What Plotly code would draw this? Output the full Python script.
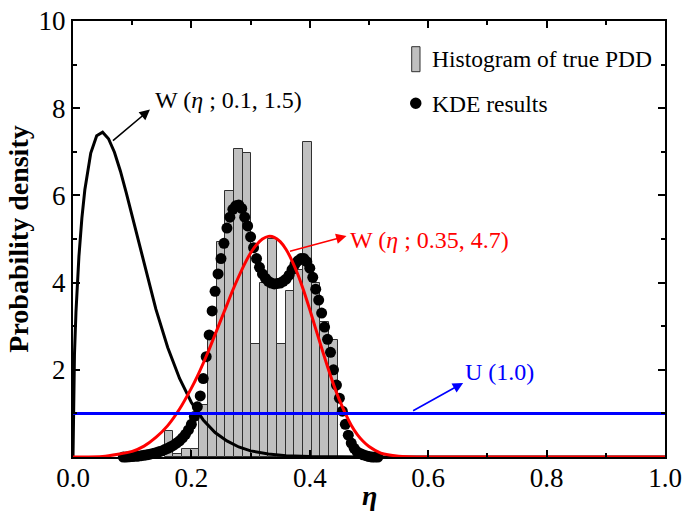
import plotly.graph_objects as go

# ---------------- data ----------------
# Histogram of true PDD (20 bins)
hist_left_edge = 0.155
hist_bin_width = 0.0146
hist_density = [0.60, 0.08, 0.18, 0.18, 1.20, 2.85, 4.92, 6.11, 7.06, 6.98,
                2.59, 4.00, 4.99, 2.59, 3.80, 4.30, 7.23, 4.00, 3.10, 2.68]

# KDE results (grid step 0.005 starting at 0.085)
kde_start = 0.085
kde_step = 0.005
kde_density = [0.0, 0.0, 0.005, 0.01, 0.015, 0.02, 0.03, 0.04, 0.05, 0.065,
               0.08, 0.10, 0.12, 0.14, 0.17, 0.20, 0.235, 0.27, 0.32, 0.37,
               0.44, 0.52, 0.62, 0.75, 0.93, 1.15, 1.40, 1.80, 2.30, 2.80,
               3.35, 3.80, 4.20, 4.55, 4.90, 5.25, 5.50, 5.68, 5.76, 5.78,
               5.70, 5.50, 5.30, 5.05, 4.80, 4.55, 4.35, 4.20, 4.10, 4.03,
               3.99, 3.97, 3.98, 3.99, 4.03, 4.08, 4.17, 4.30, 4.42, 4.50,
               4.55, 4.55, 4.48, 4.33, 4.12, 3.85, 3.60, 3.30, 2.98, 2.70,
               2.40, 2.00, 1.65, 1.35, 1.05, 0.75, 0.50, 0.32, 0.20, 0.12,
               0.08, 0.05, 0.03, 0.01, 0.0, 0.0, 0.0]

# W(eta; 0.1, 1.5) curve (black)
w1_eta = [0, 0.0025, 0.005, 0.01, 0.015, 0.02, 0.03, 0.04, 0.05, 0.06, 0.07,
          0.08, 0.09, 0.10, 0.12, 0.14, 0.16, 0.18, 0.20, 0.22, 0.24, 0.26,
          0.28, 0.30, 0.33, 0.36, 0.40, 0.45, 0.50, 1.0]
w1_density = [0, 2.36, 3.32, 4.60, 5.48, 6.13, 6.97, 7.37, 7.45, 7.30, 6.99,
              6.56, 6.06, 5.52, 4.41, 3.39, 2.51, 1.80, 1.25, 0.85, 0.56, 0.37,
              0.23, 0.14, 0.07, 0.03, 0.01, 0.0, 0.0, 0.0]

# W(eta; 0.35, 4.7) curve (red)
w2_eta = [0, 0.05, 0.10, 0.12, 0.14, 0.16, 0.18, 0.20, 0.21, 0.22, 0.23, 0.24,
          0.25, 0.26, 0.27, 0.28, 0.29, 0.30, 0.31, 0.32, 0.33, 0.34, 0.35,
          0.36, 0.37, 0.38, 0.39, 0.40, 0.41, 0.42, 0.43, 0.44, 0.45, 0.46,
          0.47, 0.48, 0.49, 0.50, 0.52, 0.55, 0.60, 1.0]
w2_density = [0, 0.01, 0.13, 0.25, 0.45, 0.72, 1.10, 1.58, 1.85, 2.15, 2.47,
              2.81, 3.15, 3.49, 3.83, 4.14, 4.43, 4.68, 4.87, 5.00, 5.06, 5.04,
              4.94, 4.76, 4.50, 4.18, 3.80, 3.38, 2.94, 2.50, 2.07, 1.67, 1.31,
              1.00, 0.73, 0.52, 0.36, 0.24, 0.09, 0.02, 0.0, 0.0]

# U(1.0) uniform line (blue)
u_eta = [0.0, 1.0]
u_density = [1.0, 1.0]

x_ticks = [0.0, 0.2, 0.4, 0.6, 0.8, 1.0]
y_ticks = [2, 4, 6, 8, 10]

# ---------------- figure ----------------
FONT = "Liberation Serif, Times New Roman, serif"

hist_centers = [hist_left_edge + hist_bin_width * (i + 0.5) for i in range(len(hist_density))]
kde_eta = [round(kde_start + kde_step * i, 4) for i in range(len(kde_density))]

fig = go.Figure()
fig.add_trace(go.Bar(x=hist_centers, y=hist_density, width=hist_bin_width,
                     marker=dict(color="#c0c0c0", line=dict(color="#303030", width=1)),
                     name="Histogram of true PDD", showlegend=False))
fig.add_trace(go.Scatter(x=kde_eta, y=kde_density, mode="markers",
                         marker=dict(color="black", size=11),
                         cliponaxis=False, name="KDE results", showlegend=False))
fig.add_trace(go.Scatter(x=w1_eta, y=w1_density, mode="lines",
                         line=dict(color="black", width=3),
                         cliponaxis=False, showlegend=False))
fig.add_trace(go.Scatter(x=w2_eta, y=w2_density, mode="lines",
                         line=dict(color="#ff0000", width=3, shape="spline", smoothing=0.6),
                         cliponaxis=False, showlegend=False))
fig.add_trace(go.Scatter(x=u_eta, y=u_density, mode="lines",
                         line=dict(color="#0000ff", width=3),
                         cliponaxis=False, showlegend=False))

# arrows (head at text, tail on curve)
arrows = [
    dict(x=0.130, y=7.97, ax=0.065, ay=7.23, color="black"),
    dict(x=0.462, y=5.07, ax=0.364, ay=4.71, color="#ff0000"),
    dict(x=0.659, y=1.70, ax=0.572, ay=1.04, color="#0000ff"),
]
for a in arrows:
    fig.add_annotation(x=a["x"], y=a["y"], ax=a["ax"], ay=a["ay"],
                       xref="x", yref="y", axref="x", ayref="y",
                       text="", showarrow=True, arrowhead=2, arrowsize=1.3,
                       arrowwidth=1.6, arrowcolor=a["color"])

labels = [
    dict(x=0.135, y=8.19, text="W (<i>η</i> ; 0.1, 1.5)", color="black"),
    dict(x=0.465, y=4.98, text="W (<i>η</i> ; 0.35, 4.7)", color="#ff0000"),
    dict(x=0.659, y=1.95, text="U (1.0)", color="#0000ff"),
]
for l in labels:
    fig.add_annotation(x=l["x"], y=l["y"], xref="x", yref="y", text=l["text"],
                       showarrow=False, xanchor="left", yanchor="middle",
                       font=dict(family=FONT, size=24, color=l["color"]))

# custom legend
fig.add_shape(type="rect", xref="paper", yref="paper",
              x0=(411.7 - 73) / 592, x1=(420 - 73) / 592,
              y0=(457 - 71.7) / 436, y1=(457 - 46.7) / 436,
              fillcolor="#c0c0c0", line=dict(color="#303030", width=1))
fig.add_shape(type="circle", xref="paper", yref="paper",
              x0=(410 - 73) / 592, x1=(421.5 - 73) / 592,
              y0=(457 - 109) / 436, y1=(457 - 97.5) / 436,
              fillcolor="black", line=dict(color="black", width=0))
fig.add_annotation(x=(430 - 73) / 592, y=(457 - 59) / 436, xref="paper", yref="paper",
                   text="Histogram of true PDD", showarrow=False,
                   xanchor="left", yanchor="middle",
                   font=dict(family=FONT, size=23.5, color="black"))
fig.add_annotation(x=(430 - 73) / 592, y=(457 - 104) / 436, xref="paper", yref="paper",
                   text="KDE results", showarrow=False,
                   xanchor="left", yanchor="middle",
                   font=dict(family=FONT, size=23.5, color="black"))

# x-axis title
fig.add_annotation(x=0.5, y=(457 - 495) / 436, xref="paper", yref="paper",
                   text="<b><i>η</i></b>", showarrow=False,
                   xanchor="center", yanchor="middle",
                   font=dict(family=FONT, size=28, color="black"))

axis_common = dict(showline=True, linecolor="black", linewidth=2, mirror="allticks",
                   ticks="inside", ticklen=7, tickwidth=1.5, tickcolor="black",
                   showgrid=False, zeroline=False, automargin=False,
                   tickfont=dict(family=FONT, size=27, color="black"))

fig.update_xaxes(range=[0, 1], tickvals=x_ticks, ticktext=[f"{v:.1f}" for v in x_ticks],
                 minor=dict(dtick=0.1, tick0=0, ticks="inside", ticklen=4, tickcolor="black"),
                 ticklabelstandoff=-4,
                 **axis_common)
fig.update_yaxes(range=[0, 10], tickvals=y_ticks, ticktext=[str(v) for v in y_ticks],
                 minor=dict(dtick=1, tick0=0, ticks="inside", ticklen=4, tickcolor="black"),
                 title=dict(text="<b>Probability density</b>",
                            font=dict(family=FONT, size=28, color="black"), standoff=2),
                 **axis_common)

fig.update_layout(width=684, height=520, margin=dict(l=73, r=19, t=21, b=63),
                  plot_bgcolor="white", paper_bgcolor="white", bargap=0,
                  showlegend=False)

fig.write_html("out.html")
